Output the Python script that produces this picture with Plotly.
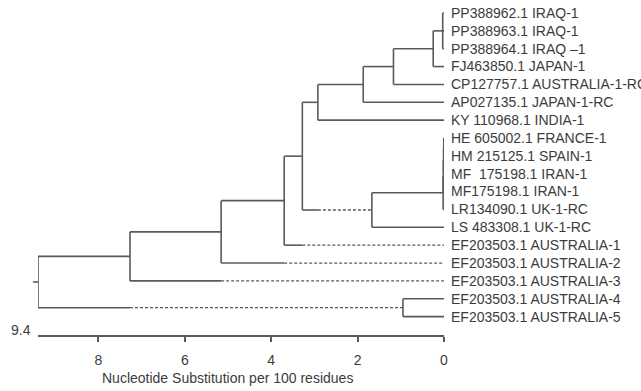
import plotly.graph_objects as go

# ---------------- data ----------------
leaf_labels = [
    "PP388962.1 IRAQ-1",
    "PP388963.1 IRAQ-1",
    "PP388964.1 IRAQ \u20131",
    "FJ463850.1 JAPAN-1",
    "CP127757.1 AUSTRALIA-1-RC",
    "AP027135.1 JAPAN-1-RC",
    "KY 110968.1 INDIA-1",
    "HE 605002.1 FRANCE-1",
    "HM 215125.1 SPAIN-1",
    "MF  175198.1 IRAN-1",
    "MF175198.1 IRAN-1",
    "LR134090.1 UK-1-RC",
    "LS 483308.1 UK-1-RC",
    "EF203503.1 AUSTRALIA-1",
    "EF203503.1 AUSTRALIA-2",
    "EF203503.1 AUSTRALIA-3",
    "EF203503.1 AUSTRALIA-4",
    "EF203503.1 AUSTRALIA-5",
]
leaf_heights = [0.0] * len(leaf_labels)

# internal nodes: name, height (substitutions per 100 residues), children
node_names = ["A", "B", "C", "D", "E", "H1", "H2", "H3", "H4", "G",
              "F", "I", "J", "K", "L", "root"]
node_heights = [0.03, 0.25, 1.17, 1.87, 2.92, 0.005, 0.01, 0.015, 0.02, 1.67,
                3.28, 3.70, 5.16, 7.27, 0.95, 9.40]
node_children = [
    [0, 1, 2],
    ["A", 3],
    ["B", 4],
    ["C", 5],
    ["D", 6],
    [7, 8],
    ["H1", 9],
    ["H2", 10],
    ["H3", 11],
    ["H4", 12],
    ["E", "G"],
    ["F", 13],
    ["I", 14],
    ["J", 15],
    [16, 17],
    ["K", "L"],
]
# branches drawn partly dotted (parent, child)
dotted_branches = [("I", 13), ("J", 14), ("K", 15), ("F", "G"), ("root", "L")]

x_ticks = [8, 6, 4, 2, 0]
scale_max = 9.4
axis_title = "Nucleotide Substitution per 100 residues"

# ---------------- layout of tree ----------------
height = {i: h for i, h in enumerate(leaf_heights)}
ypos = {i: float(i) for i in range(len(leaf_labels))}
children = {}
for n, h, ch in zip(node_names, node_heights, node_children):
    height[n] = h
    children[n] = ch
for n in node_names:  # children always defined before parents
    ch = children[n]
    ypos[n] = (ypos[ch[0]] + ypos[ch[-1]]) / 2.0

solid_x, solid_y, dot_x, dot_y = [], [], [], []
dotted_set = set(dotted_branches)
for n in node_names:
    ch = children[n]
    # vertical connector
    solid_x += [height[n], height[n], None]
    solid_y += [ypos[ch[0]], ypos[ch[-1]], None]
    for c in ch:
        if (n, c) in dotted_set:
            sib = [s for s in ch if s != c][0]
            mid = height[sib]
            solid_x += [height[n], mid, None]
            solid_y += [ypos[c], ypos[c], None]
            dot_x += [mid, height[c], None]
            dot_y += [ypos[c], ypos[c], None]
        else:
            solid_x += [height[n], height[c], None]
            solid_y += [ypos[c], ypos[c], None]

line_col = "#5a5a5a"
text_col = "#3c3c3c"
font_fam = "Liberation Sans, Arial, sans-serif"

fig = go.Figure()
fig.add_trace(go.Scatter(x=solid_x, y=solid_y, mode="lines",
                         line=dict(color=line_col, width=1.6),
                         hoverinfo="skip", showlegend=False))
fig.add_trace(go.Scatter(x=dot_x, y=dot_y, mode="lines",
                         line=dict(color=line_col, width=1.3, dash="3px,2px"),
                         hoverinfo="skip", showlegend=False))

n_leaf = len(leaf_labels)
fig.update_layout(
    width=641, height=391,
    margin=dict(l=38, r=197, t=0, b=56, autoexpand=False),
    paper_bgcolor="white", plot_bgcolor="white",
    font=dict(family=font_fam, size=14, color=text_col),
    xaxis=dict(range=[scale_max, 0], tickvals=x_ticks,
               ticktext=[str(t) for t in x_ticks],
               showgrid=False, zeroline=False, showline=True,
               linecolor=line_col, linewidth=1.6, automargin=False,
               ticks="outside", ticklen=5, tickwidth=1.6, tickcolor=line_col,
               ticklabelstandoff=6,
               tickfont=dict(size=14, color=text_col)),
    yaxis=dict(range=[n_leaf + 0.03, -0.728], side="right",
               tickvals=list(range(n_leaf)), ticktext=leaf_labels,
               showgrid=False, zeroline=False, showline=False,
               automargin=False, ticks="", ticklabelstandoff=6,
               tickfont=dict(size=14, color=text_col)),
)

root = node_names[-1]
# root stub (paper coords, computed from root height)
fig.add_shape(type="line", xref="paper", yref="y",
              x0=(scale_max - height[root]) / scale_max - 0.012,
              x1=(scale_max - height[root]) / scale_max,
              y0=ypos[root], y1=ypos[root],
              line=dict(color=line_col, width=1.6))
# scale label
fig.add_annotation(x=scale_max, xref="x", y=0, yref="paper",
                   text=str(scale_max), showarrow=False,
                   xanchor="right", yanchor="middle", xshift=-5, yshift=5,
                   font=dict(size=14, color=text_col))
# axis title
fig.add_annotation(x=0.466, xref="paper", y=0, yref="paper",
                   text=axis_title, showarrow=False,
                   xanchor="center", yanchor="middle", yshift=-43,
                   font=dict(size=14, color=text_col))

fig.write_html("out.html", config={"displayModeBar": False},
               post_script="document.body.style.margin='0';"
                           "document.body.style.overflow='hidden';")
